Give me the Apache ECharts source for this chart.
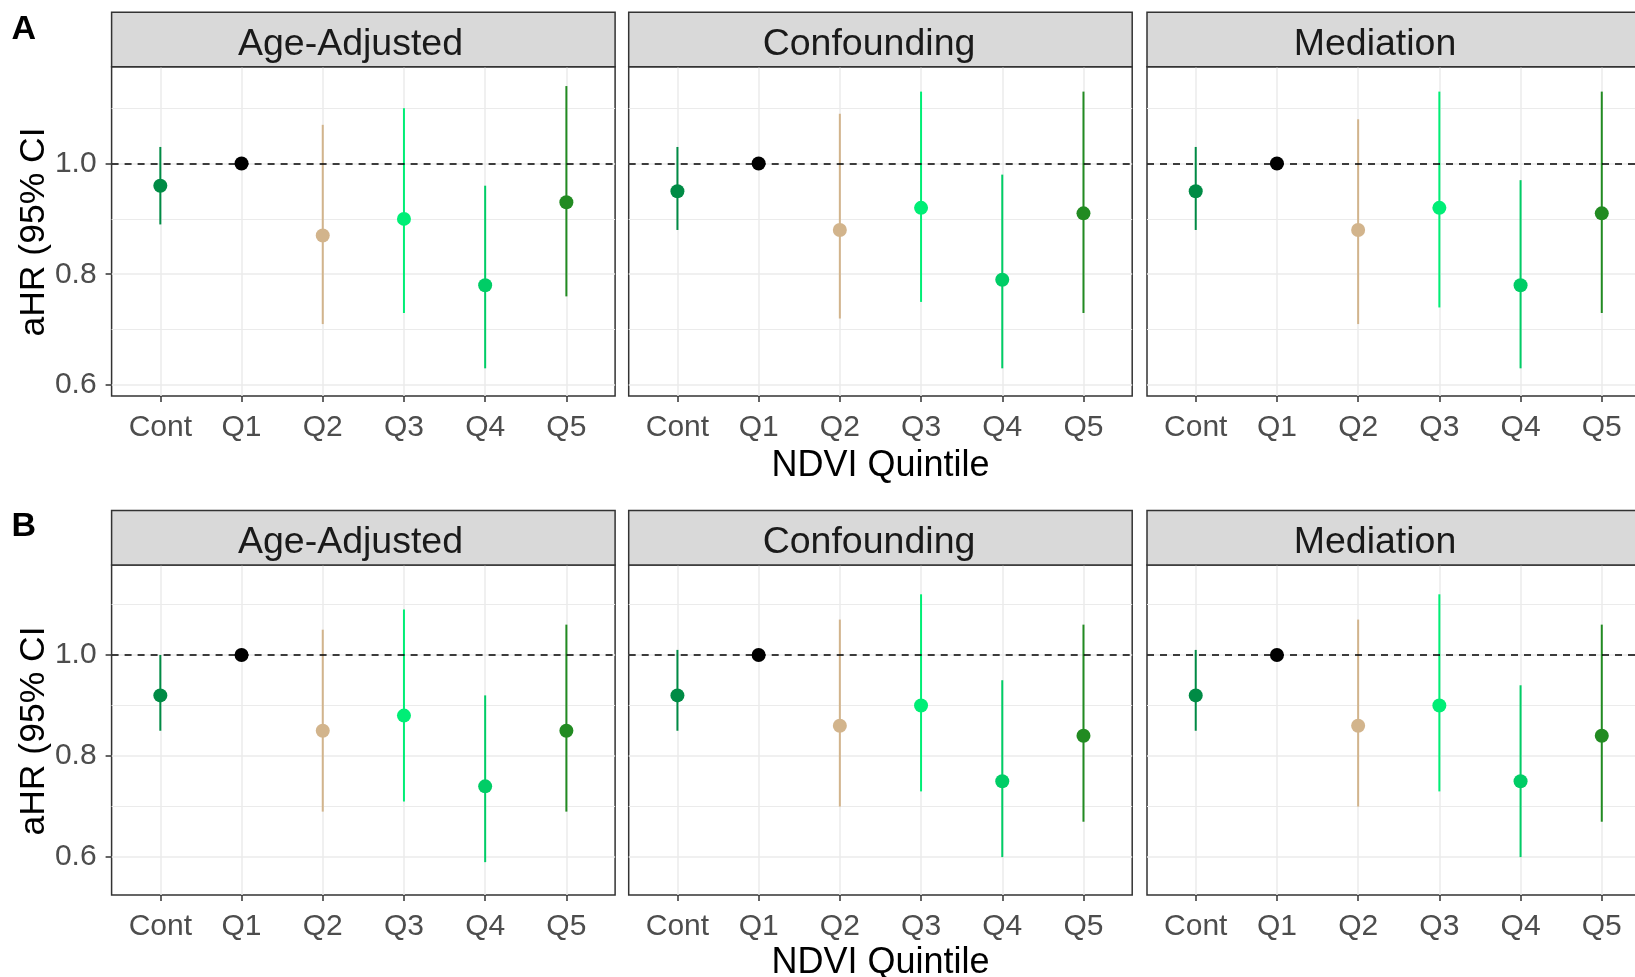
<!DOCTYPE html>
<html><head><meta charset="utf-8">
<script src="https://cdn.jsdelivr.net/npm/echarts@6/dist/echarts.min.js"></script>
<style>html,body{margin:0;padding:0;background:#fff;}#c{width:1635px;height:977px;}</style>
</head><body><div id="c"></div>
<script>
// ---------- data ----------
const categories = ['Cont', 'Q1', 'Q2', 'Q3', 'Q4', 'Q5'];
const models = ['Age-Adjusted', 'Confounding', 'Mediation'];
const rowLabels = ['A', 'B'];
const yTickValues = [0.6, 0.8, 1.0];
const yMinorValues = [0.7, 0.9, 1.1];
const refValue = 1.0;
const xTitle = 'NDVI Quintile';
const yTitle = 'aHR (95% CI';

// Row A
const A_ageAdj_est = [0.96, 1.00, 0.87, 0.90, 0.78, 0.93];
const A_ageAdj_lo  = [0.89, null, 0.71, 0.73, 0.63, 0.76];
const A_ageAdj_hi  = [1.03, null, 1.07, 1.10, 0.96, 1.14];
const A_conf_est   = [0.95, 1.00, 0.88, 0.92, 0.79, 0.91];
const A_conf_lo    = [0.88, null, 0.72, 0.75, 0.63, 0.73];
const A_conf_hi    = [1.03, null, 1.09, 1.13, 0.98, 1.13];
const A_med_est    = [0.95, 1.00, 0.88, 0.92, 0.78, 0.91];
const A_med_lo     = [0.88, null, 0.71, 0.74, 0.63, 0.73];
const A_med_hi     = [1.03, null, 1.08, 1.13, 0.97, 1.13];
// Row B
const B_ageAdj_est = [0.92, 1.00, 0.85, 0.88, 0.74, 0.85];
const B_ageAdj_lo  = [0.85, null, 0.69, 0.71, 0.59, 0.69];
const B_ageAdj_hi  = [1.00, null, 1.05, 1.09, 0.92, 1.06];
const B_conf_est   = [0.92, 1.00, 0.86, 0.90, 0.75, 0.84];
const B_conf_lo    = [0.85, null, 0.70, 0.73, 0.60, 0.67];
const B_conf_hi    = [1.01, null, 1.07, 1.12, 0.95, 1.06];
const B_med_est    = [0.92, 1.00, 0.86, 0.90, 0.75, 0.84];
const B_med_lo     = [0.85, null, 0.70, 0.73, 0.60, 0.67];
const B_med_hi     = [1.01, null, 1.07, 1.12, 0.94, 1.06];

// ---------- styles / layout ----------
const pointColors = ['#008B45', '#000000', '#D2B48C', '#00EE76', '#00CD66', '#228B22'];
const FONT = "'Liberation Sans', Arial, sans-serif";
const colLefts = [111.6, 628.7, 1147];
const panelW = 503.5;
const stripH = 54.5;
const rowsCfg = [
  { top: 66.7, height: 329.3, min: 0.58, max: 1.175, stripTop: 12.2, labelY: 30, xTitleY: 466, yTitleY: 232 },
  { top: 565,  height: 330,   min: 0.525, max: 1.178, stripTop: 510.5, labelY: 527, xTitleY: 963, yTitleY: 731 }
];
const stripTextX = [350.5, 869, 1375];

const panels = [
  { row: 0, col: 0, est: A_ageAdj_est, lo: A_ageAdj_lo, hi: A_ageAdj_hi },
  { row: 0, col: 1, est: A_conf_est,   lo: A_conf_lo,   hi: A_conf_hi },
  { row: 0, col: 2, est: A_med_est,    lo: A_med_lo,    hi: A_med_hi },
  { row: 1, col: 0, est: B_ageAdj_est, lo: B_ageAdj_lo, hi: B_ageAdj_hi },
  { row: 1, col: 1, est: B_conf_est,   lo: B_conf_lo,   hi: B_conf_hi },
  { row: 1, col: 2, est: B_med_est,    lo: B_med_lo,    hi: B_med_hi }
];

const xIdx = categories.map((c, i) => i);
const grids = [], xAxes = [], yAxes = [], series = [], graphics = [];

panels.forEach((p, k) => {
  const r = rowsCfg[p.row];
  grids.push({
    left: colLefts[p.col], top: r.top, width: panelW, height: r.height,
    show: true, borderColor: '#333333', borderWidth: 1.5, backgroundColor: 'rgba(0,0,0,0)',
    outerBoundsMode: 'none', containLabel: false
  });
  xAxes.push({
    type: 'value', gridIndex: k, min: -0.6, max: 5.6, position: 'bottom',
    axisLine: { show: false, onZero: false },
    axisTick: { show: true, customValues: xIdx, length: 6, lineStyle: { color: '#333333', width: 1.5 } },
    axisLabel: { show: true, customValues: xIdx, formatter: v => categories[Math.round(v)],
      color: '#4D4D4D', fontSize: 30, fontFamily: FONT, margin: 17 },
    splitLine: { show: true, lineStyle: { color: '#EBEBEB', width: 1.5 } }
  });
  // major y axis
  yAxes.push({
    type: 'value', gridIndex: k, min: r.min, max: r.max, position: 'left',
    axisLine: { show: false, onZero: false },
    axisTick: { show: p.col === 0, customValues: yTickValues, length: 6, lineStyle: { color: '#333333', width: 1.5 } },
    axisLabel: { show: p.col === 0, customValues: yTickValues, formatter: v => v.toFixed(1),
      color: '#4D4D4D', fontSize: 30, fontFamily: FONT, margin: 15 },
    splitLine: { show: true, lineStyle: { color: '#EBEBEB', width: 1.5 } }
  });
  const majorIdx = yAxes.length - 1;
  // minor y axis (gridlines only)
  yAxes.push({
    type: 'value', gridIndex: k, min: r.min, max: r.max, position: 'left',
    axisLine: { show: false, onZero: false },
    axisTick: { show: false, customValues: yMinorValues },
    axisLabel: { show: false, customValues: yMinorValues },
    splitLine: { show: true, lineStyle: { color: '#EBEBEB', width: 1.2 } }
  });

  const barData = [];
  xIdx.forEach(i => { if (p.lo[i] != null) barData.push([i, p.lo[i], p.hi[i]]); });
  series.push({
    type: 'custom', xAxisIndex: k, yAxisIndex: majorIdx, z: 2, silent: true,
    encode: { x: 0, y: [1, 2] },
    data: barData,
    renderItem: (params, api) => {
      const xi = api.value(0);
      const a = api.coord([xi, api.value(1)]);
      const b = api.coord([xi, api.value(2)]);
      return { type: 'line', shape: { x1: a[0], y1: a[1], x2: b[0], y2: b[1] },
        style: { stroke: pointColors[xi], lineWidth: 2 } };
    }
  });
  series.push({
    type: 'scatter', xAxisIndex: k, yAxisIndex: majorIdx, z: 3, silent: true,
    symbol: 'circle', symbolSize: 14,
    data: p.est.map((v, i) => [i, v]),
    itemStyle: { color: params => pointColors[params.data[0]], opacity: 1 },
    markLine: {
      silent: true, symbol: ['none', 'none'], label: { show: false },
      lineStyle: { type: [7, 6], color: '#000000', width: 1.6 },
      emphasis: { disabled: true },
      data: [{ yAxis: refValue }]
    }
  });

  // strip
  graphics.push({
    type: 'rect', z: 10,
    shape: { x: colLefts[p.col], y: r.stripTop, width: panelW, height: stripH },
    style: { fill: '#D9D9D9', stroke: '#333333', lineWidth: 1.5 }
  });
  graphics.push({
    type: 'text', z: 11,
    x: stripTextX[p.col], y: r.stripTop + 32,
    style: { text: models[p.col], fill: '#1A1A1A', font: '37.5px ' + FONT, textAlign: 'center', textVerticalAlign: 'middle' }
  });
});

rowsCfg.forEach((r, ri) => {
  graphics.push({
    type: 'text', z: 11, x: 11.5, y: r.labelY,
    style: { text: rowLabels[ri], fill: '#000000', font: 'bold 34px ' + FONT, textAlign: 'left', textVerticalAlign: 'middle' }
  });
  graphics.push({
    type: 'text', z: 11, x: 880.5, y: r.xTitleY,
    style: { text: xTitle, fill: '#000000', font: '36px ' + FONT, textAlign: 'center', textVerticalAlign: 'middle' }
  });
  graphics.push({
    type: 'text', z: 11, x: 34, y: r.yTitleY, rotation: Math.PI / 2,
    style: { text: yTitle, fill: '#000000', font: '35.5px ' + FONT, textAlign: 'center', textVerticalAlign: 'middle' }
  });
});

const chart = echarts.init(document.getElementById('c'), null, { renderer: 'canvas' });
chart.setOption({
  backgroundColor: '#ffffff',
  animation: false,
  grid: grids,
  xAxis: xAxes,
  yAxis: yAxes,
  series: series,
  graphic: graphics
});
</script></body></html>
